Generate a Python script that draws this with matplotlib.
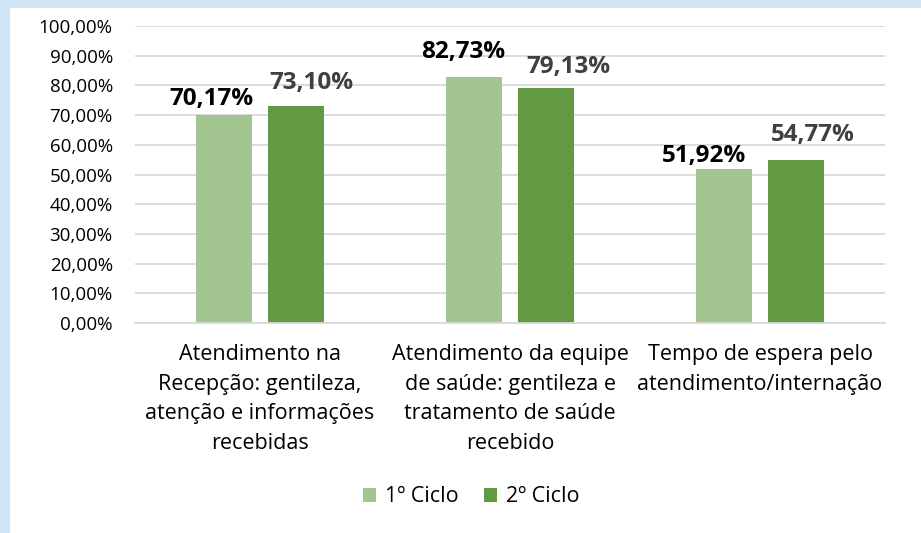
import matplotlib
matplotlib.use('Agg')
import matplotlib.pyplot as plt
import numpy as np
from matplotlib.patches import Rectangle

plt.rcParams['font.family'] = ['Open Sans', 'DejaVu Sans']

# dados do gráfico
categorias = ['Atendimento na\nRecepção: gentileza,\natenção e informações\nrecebidas',
              'Atendimento da equipe\nde saúde: gentileza e\ntratamento de saúde\nrecebido',
              'Tempo de espera pelo\natendimento/internação']
ciclo1 = [70.17, 82.73, 51.92]
ciclo2 = [73.10, 79.13, 54.77]
series = ['1º Ciclo', '2º Ciclo']

cor1 = '#A3C690'
cor2 = '#629A43'

# deslocamento dos rótulos (pixels) como no Excel
desl1 = [(-13, 10), (-11, 19), (-20, 7)]
desl2 = [(15, 17), (22, 15), (17, 19)]

fig = plt.figure(figsize=(9.21, 5.33), dpi=100)
fig.patch.set_facecolor('#CFE4F4')
# fundo branco com borda azul
fig.patches.append(Rectangle((10 / 921, 0), 1, 1 - 8 / 533, transform=fig.transFigure,
                             facecolor='white', edgecolor='none', zorder=-5))

ax = fig.add_axes([135 / 921, (533 - 323) / 533, 750 / 921, (323 - 26) / 533])
ax.set_facecolor('none')

x = np.arange(len(categorias))
w = 0.224
d = 0.144
b1 = ax.bar(x - d, ciclo1, w, color=cor1, label=series[0], zorder=2)
b2 = ax.bar(x + d, ciclo2, w, color=cor2, label=series[1], zorder=2)

for rect, v, o in zip(b1, ciclo1, desl1):
    ax.annotate(f'{v:.2f}%'.replace('.', ','), (rect.get_x() + rect.get_width() / 2, v),
                xytext=o, textcoords='offset pixels', ha='center', va='baseline',
                fontsize=17.5, fontweight='bold', color='black')
for rect, v, o in zip(b2, ciclo2, desl2):
    ax.annotate(f'{v:.2f}%'.replace('.', ','), (rect.get_x() + rect.get_width() / 2, v),
                xytext=o, textcoords='offset pixels', ha='center', va='baseline',
                fontsize=17.5, fontweight='bold', color='#404040')

ax.set_xlim(-0.5, 2.5)
ax.set_ylim(0, 100)
ax.set_yticks(np.arange(0, 101, 10))
ax.set_yticklabels([f'{t},00%' for t in range(0, 101, 10)], fontsize=13.5, color='black')
ax.set_xticks(x)
ax.set_xticklabels(categorias, fontsize=15.5, color='black', linespacing=1.55)
ax.tick_params(axis='both', length=0)
ax.tick_params(axis='y', pad=16)
ax.tick_params(axis='x', pad=15)

ax.grid(axis='y', color='#D9D9D9', linewidth=1.3, zorder=0)
for s in ['top', 'right', 'left']:
    ax.spines[s].set_visible(False)
ax.spines['bottom'].set_color('#D9D9D9')
ax.spines['bottom'].set_linewidth(1.3)

fig.legend(handles=[b1, b2], labels=series, loc='center', bbox_to_anchor=(471 / 921, 1 - 497 / 533),
           ncol=2, frameon=False, fontsize=15.5, handlelength=0.6, handleheight=0.6,
           handletextpad=0.4, columnspacing=1.2)

fig.savefig('out.png', dpi=100)
